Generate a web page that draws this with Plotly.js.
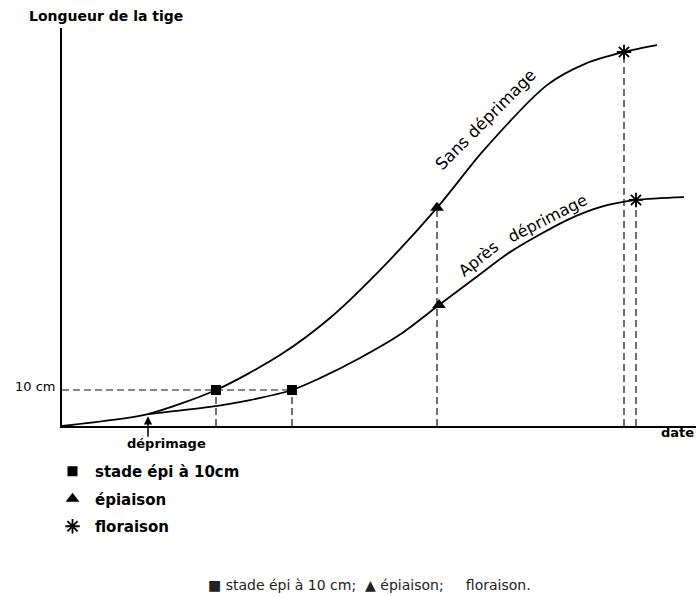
<!DOCTYPE html>
<html>
<head>
<meta charset="utf-8">
<script src="https://cdn.plot.ly/plotly-3.0.1.min.js"></script>
<style>html,body{margin:0;padding:0;background:#fff;}#chart{width:696px;height:597px;}</style>
</head>
<body>
<div id="chart"></div>
<script>
// ---- data (x: time units, y: stem length in cm) ----
const sansX  = [0, 8.6, 17.2, 30.8, 43.6, 53.6, 63.6, 75.0, 84.4, 97.0, 104.6, 112.4, 119.0];
const sansY  = [0, 1.4, 3.3, 10.0, 19.7, 30.0, 43.3, 60.6, 76.7, 94.7, 100.6, 103.9, 105.8];
const apresX = [17.2, 29.6, 37.6, 46.0, 51.6, 59.6, 67.6, 75.4, 82.6, 89.6, 101.0, 107.6, 114.8, 124.4];
const apresY = [3.3, 5.3, 7.2, 10.0, 13.3, 18.9, 25.4, 33.6, 41.1, 48.3, 57.2, 60.8, 62.8, 63.6];
const depriX = 17.2, depriY = 3.3;
const squareX = [30.8, 46.0],  squareY = [10, 10];
const triangleX = [75.0, 75.4], triangleY = [60.6, 33.6];
const starX = [112.4, 114.8],  starY = [103.9, 62.8];
const stageNames = ['stade épi à 10cm', 'épiaison', 'floraison'];
const curveNames = ['Sans déprimage', 'Après déprimage'];
const levelLabel = '10 cm';

const W = 696, H = 597;
const px = v => v / W, py = v => 1 - v / H;
const FONT = 'DejaVu Sans';
const dashStyle = {color: '#111', width: 1.2, dash: '7px,4px'};

const traces = [];
// dashed guide lines
traces.push({x: [0, squareX[1]], y: [squareY[1], squareY[1]], mode: 'lines', line: dashStyle, showlegend: false, hoverinfo: 'skip'});
[[squareX[0], squareY[0]], [squareX[1], squareY[1]], [triangleX[0], triangleY[0]], [starX[0], starY[0]], [starX[1], starY[1]]].forEach(p => {
  traces.push({x: [p[0], p[0]], y: [0, p[1]], mode: 'lines', line: dashStyle, showlegend: false, hoverinfo: 'skip'});
});
// curves
traces.push({x: sansX, y: sansY, mode: 'lines', line: {color: '#000', width: 1.8, shape: 'spline', smoothing: 0.8}, name: curveNames[0], showlegend: false});
traces.push({x: apresX, y: apresY, mode: 'lines', line: {color: '#000', width: 1.8, shape: 'spline', smoothing: 0.8}, name: curveNames[1], showlegend: false});
// stage markers
traces.push({x: squareX, y: squareY, mode: 'markers', name: stageNames[0], legendgroup: 'a',
  marker: {symbol: 'square', size: 10, color: '#000'}});
traces.push({x: triangleX, y: triangleY, mode: 'markers', name: stageNames[1], legendgroup: 'b',
  marker: {symbol: 'triangle-up', size: 12, color: '#000'}});
traces.push({x: starX, y: starY, mode: 'markers', name: stageNames[2], legendgroup: 'c',
  marker: {symbol: 'asterisk', size: 12, color: '#000', line: {color: '#000', width: 1.8}}});

const apresWords = curveNames[1].split(' ');

const layout = {
  width: W, height: H,
  margin: {l: 0, r: 0, t: 0, b: 0},
  paper_bgcolor: '#fff', plot_bgcolor: '#fff',
  showlegend: true,
  legend: {x: px(50), y: py(455), xanchor: 'left', yanchor: 'top', traceorder: 'grouped', tracegroupgap: 5,
    itemwidth: 35,
    font: {family: FONT, size: 15, color: '#000', weight: 'bold'}, bgcolor: 'rgba(0,0,0,0)', itemsizing: 'trace'},
  xaxis: {domain: [px(62), 1], range: [0, 126.8], showline: true, linecolor: '#000', linewidth: 2,
    showgrid: false, zeroline: false, showticklabels: false, ticks: '', fixedrange: true},
  yaxis: {domain: [py(426), py(28)], range: [0, 110.56], showline: true, linecolor: '#000', linewidth: 2,
    showgrid: false, zeroline: false, showticklabels: false, ticks: '', fixedrange: true},
  annotations: [
    {xref: 'paper', yref: 'paper', x: px(27), y: py(16), xanchor: 'left', yanchor: 'middle', showarrow: false,
     text: 'Longueur de la tige', font: {family: FONT, size: 14, color: '#000', weight: 'bold'}},
    {xref: 'paper', yref: 'paper', x: px(58), y: py(386), xanchor: 'right', yanchor: 'middle', showarrow: false,
     text: levelLabel, font: {family: FONT, size: 13, color: '#000'}},
    {xref: 'paper', yref: 'paper', x: px(696), y: py(432), xanchor: 'right', yanchor: 'middle', showarrow: false,
     text: 'date', font: {family: FONT, size: 13, color: '#000', weight: 'bold'}},
    {xref: 'paper', yref: 'paper', x: px(166), y: py(443), xanchor: 'center', yanchor: 'middle', showarrow: false,
     text: 'déprimage', font: {family: FONT, size: 13, color: '#000', weight: 'bold'}},
    {x: depriX, y: depriY - 0.6, xref: 'x', yref: 'y', text: '', showarrow: true, arrowhead: 2, arrowsize: 1.1,
     arrowwidth: 1.5, arrowcolor: '#000', ax: 0, ay: 22},
    {xref: 'paper', yref: 'paper', x: px(486), y: py(120), xanchor: 'center', yanchor: 'middle', showarrow: false, textangle: -45,
     text: curveNames[0], font: {family: FONT, size: 16.5, color: '#000'}},
    {xref: 'paper', yref: 'paper', x: px(479), y: py(259), xanchor: 'center', yanchor: 'middle', showarrow: false, textangle: -39,
     text: apresWords[0], font: {family: FONT, size: 16, color: '#000'}},
    {xref: 'paper', yref: 'paper', x: px(547), y: py(218), xanchor: 'center', yanchor: 'middle', showarrow: false, textangle: -27,
     text: apresWords[1], font: {family: FONT, size: 16, color: '#000'}},
    {xref: 'paper', yref: 'paper', x: px(369), y: py(585), xanchor: 'center', yanchor: 'middle', showarrow: false,
     text: '■ stade épi à 10 cm;  ▲ épiaison;     floraison.', font: {family: FONT, size: 14, color: '#222'}}
  ]
};

Plotly.newPlot('chart', traces, layout, {staticPlot: true, displayModeBar: false});
</script>
</body>
</html>
